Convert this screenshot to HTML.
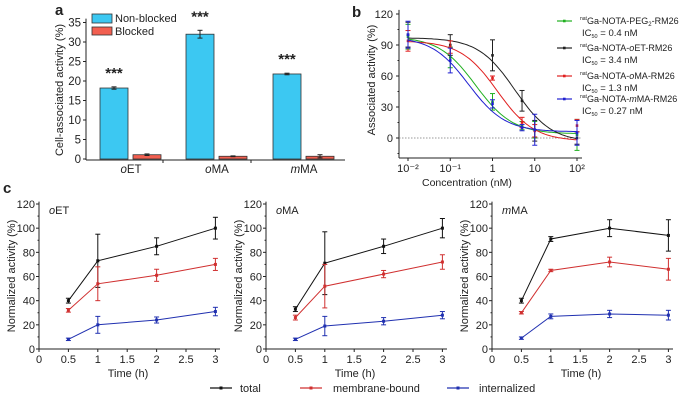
<!DOCTYPE html>
<html><head><meta charset="utf-8"><style>
body{margin:0;background:#fff;width:685px;height:400px;overflow:hidden}
svg{font-family:"Liberation Sans",sans-serif}
</style></head><body>
<svg id="s" width="685" height="400"></svg>
<script>
// Panel a data
const aCats=["oET","oMA","mMA"];
const aNonBlocked=[18.2,32,21.8];
const aNonBlockedErr=[0.3,1,0.2];
const aBlocked=[1.1,0.7,0.7];
const aBlockedErr=[0.2,0.1,0.4];
const aTicks=[0,5,10,15,20,25,30,35];
// Panel b data
const bConc=[0.01,0.1,1,5,10,100];
const bNames=["PEG","oET","oMA","mMA"];
const bColors=["#20b020","#202020","#e02020","#2020d0"];
const bIC50=[0.4,3.4,1.3,0.27];
const bTop=[98,97,94,98];
const bBottom=[4,-4,-3,6];
const bVals=[[98,78,35,12,8,3],[100,90,80,36,7,0],[94,88,58,15,7,12],[100,75,33,10,8,5]];
const bErrs=[[12,10,8,4,8,15],[12,10,15,10,10,6],[10,6,2,5,6,6],[13,12,4,3,15,12]];
const bTicks=[0,30,60,90,120];
const bXLabels=["10⁻²","10⁻¹","1","10","10²"];
// Panel c data
const cTimes=[0.5,1,2,3];
const cTitles=["oET","oMA","mMA"];
const cTotal=[[40,73,85,100],[33,71,85,100],[40,91,100,94]];
const cTotalErr=[[2,22,7,9],[2,26,6,8],[2,2,7,13]];
const cMem=[[32,54,61,70],[26,52,62,72],[30,65,72,66]];
const cMemErr=[[1.5,14,5,5],[2,18,3,6],[1,1,4,9]];
const cInt=[[8,20,24,31],[8,19,23,28],[9,27,29,28]];
const cIntErr=[[1,7,2.5,3.5],[1,8,3,3],[1,2,3,4]];
const cYTicks=[0,20,40,60,80,100,120];
const cXTicks=[0,0.5,1,1.5,2,2.5,3];

const S=document.getElementById('s');const NS="http://www.w3.org/2000/svg";
function el(t,a,txt){const e=document.createElementNS(NS,t);for(const k in a)e.setAttribute(k,a[k]);if(txt!==undefined)e.innerHTML=txt;S.appendChild(e);return e;}
function line(x1,y1,x2,y2,c,w,extra){return el('line',Object.assign({x1,y1,x2,y2,stroke:c||'#222','stroke-width':w||1},extra||{}));}
function ebar(x,y1,y2,c){line(x,y1,x,y2,c,1);line(x-2.5,y1,x+2.5,y1,c,1);line(x-2.5,y2,x+2.5,y2,c,1);}
function txt(x,y,s,o){return el('text',Object.assign({x,y,'font-size':10.5,fill:'#222'},o||{}),s);}

// ---- Panel a ----
let t=txt(55,15,"a",{'font-size':15,'font-weight':'bold'});
const ay=v=>159-v*3.9;
line(86,ay(36),86,160);line(86,160,345,160);
aTicks.forEach(v=>{line(83,ay(v),86,ay(v));const e=txt(81,ay(v)+4,v,{'text-anchor':'end','font-size':11.5});});
[163,251].forEach(x=>line(x,160,x,163));
t=txt(63,90,"Cell-associated activity (%)",{'text-anchor':'middle','font-size':11,transform:'rotate(-90 63 90)'});
const centers=[131,217,304];
aCats.forEach((c,i)=>{
 const cx=centers[i];
 let b=el('rect',{x:cx-31,y:ay(aNonBlocked[i]),width:28,height:ay(0)-ay(aNonBlocked[i]),fill:'#3cc8f2',stroke:'#333','stroke-width':0.8});
 
 ebar(cx-17,ay(aNonBlocked[i]+aNonBlockedErr[i]),ay(aNonBlocked[i]-aNonBlockedErr[i]),'#222');
 b=el('rect',{x:cx+2,y:ay(aBlocked[i]),width:28,height:ay(0)-ay(aBlocked[i]),fill:'#f25f50',stroke:'#333','stroke-width':0.8});
 
 ebar(cx+16,ay(aBlocked[i]+aBlockedErr[i]),ay(aBlocked[i]-aBlockedErr[i]),'#222');
 const s=txt(cx-17,ay(aNonBlocked[i]+aNonBlockedErr[i])-9,"***",{'text-anchor':'middle','font-size':15,'font-weight':'bold'});
 
 const l=txt(cx,173,'<tspan font-style="italic">'+c[0]+'</tspan>'+c.slice(1),{'text-anchor':'middle','font-size':11.5});
 
});
let lg=el('rect',{x:92,y:14,width:20,height:9,fill:'#3cc8f2',stroke:'#333','stroke-width':0.8});
lg=el('rect',{x:92,y:27,width:20,height:8,fill:'#f25f50',stroke:'#333','stroke-width':0.8});
t=txt(115,22,"Non-blocked",{'font-size':11});
t=txt(115,35,"Blocked",{'font-size':11});

// ---- Panel b ----
t=txt(352,17,"b",{'font-size':15,'font-weight':'bold'});
const by=v=>138-(v)*124/120;
const bx=c=>408+(Math.log10(c)+2)*42.25;
line(399,by(124),399,158);line(399,158,582,158);
line(399,by(0),582,by(0),'#777',0.8,{'stroke-dasharray':'1.5,1.5'});
bTicks.forEach(v=>{line(396,by(v),399,by(v));const e=txt(393,by(v)+4,v,{'text-anchor':'end','font-size':11});});
[-15,15,45,75,105].forEach(v=>line(397.5,by(v),399,by(v)));
bXLabels.forEach((lab,k)=>{const x=bx(Math.pow(10,k-2));line(x,158,x,161);const e=txt(x,172,lab,{'text-anchor':'middle','font-size':11});});
t=txt(422,186,"Concentration (nM)",{'font-size':10.5});
t=txt(375,80,"Associated activity (%)",{'text-anchor':'middle','font-size':11,transform:'rotate(-90 375 80)'});
bNames.forEach((n,i)=>{
 let d='';for(let k=0;k<=80;k++){const lc=-2+4*k/80;const c=Math.pow(10,lc);const v=bBottom[i]+(bTop[i]-bBottom[i])/(1+c/bIC50[i]);d+=(k?'L':'M')+bx(c).toFixed(1)+','+by(v).toFixed(1);}
 const p=el('path',{d,fill:'none',stroke:bColors[i],'stroke-width':1});
 bConc.forEach((c,j)=>{ebar(bx(c),by(bVals[i][j]+bErrs[i][j]),by(bVals[i][j]-bErrs[i][j]),bColors[i]);const m=el('rect',{x:bx(c)-1.3,y:by(bVals[i][j])-1.3,width:2.6,height:2.6,fill:bColors[i]});});
});
const bLeg=[["Ga-NOTA-PEG<tspan font-size='6' dy='2'>2</tspan><tspan dy='-2'>-RM26</tspan>"," = 0.4 nM"],
["Ga-NOTA-<tspan font-style='italic'>o</tspan>ET-RM26"," = 3.4 nM"],
["Ga-NOTA-<tspan font-style='italic'>o</tspan>MA-RM26"," = 1.3 nM"],
["Ga-NOTA-<tspan font-style='italic'>m</tspan>MA-RM26"," = 0.27 nM"]];
[21,48,76,99].forEach((y,i)=>{
 line(557,y,572,y,bColors[i],1.2);el('rect',{x:563,y:y-1.3,width:2.6,height:2.6,fill:bColors[i]});
 const a=txt(580,y+3,"<tspan font-size='5' dy='-4'>nat</tspan><tspan dy='4'>"+bLeg[i][0]+"</tspan>",{'font-size':9});
 
 const b=txt(582,y+15,"IC<tspan font-size='5.5' dy='2'>50</tspan><tspan dy='-2'>"+bLeg[i][1]+"</tspan>",{'font-size':9.5});
});

// ---- Panel c ----
t=txt(3,193,"c",{'font-size':15,'font-weight':'bold'});
const axes=[39,266,492];
const cy=v=>349-v*145/120;
const sers=[[cTotal,cTotalErr,'#111'],[cMem,cMemErr,'#d03030'],[cInt,cIntErr,'#2030b0']];
axes.forEach((x0,p)=>{
 const cx=v=>x0+v*58.8;
 line(x0,cy(122),x0,349);line(x0,349,x0+181,349);
 cYTicks.forEach(v=>{line(x0-3,cy(v),x0,cy(v));const e=txt(x0-4,cy(v)+4,v,{'text-anchor':'end','font-size':11});});
 [10,30,50,70,90,110].forEach(v=>line(x0-1.5,cy(v),x0,cy(v)));
 cXTicks.forEach(v=>{line(cx(v),349,cx(v),352);const e=txt(cx(v),363,v,{'text-anchor':'middle','font-size':11});});
 let e=txt(x0+89,377,"Time (h)",{'text-anchor':'middle','font-size':11});
 e=txt(x0-24,276,"Normalized activity (%)",{'text-anchor':'middle','font-size':11,transform:'rotate(-90 '+(x0-24)+' 276)'});
 const ttl=cTitles[p];e=txt(x0+10,214,'<tspan font-style="italic">'+ttl[0]+'</tspan>'+ttl.slice(1),{'font-size':11});
 sers.forEach(([V,E,col],k)=>{
  const pts=cTimes.map((tm,j)=>cx(tm).toFixed(1)+','+cy(V[p][j]).toFixed(1)).join(' ');
  const pl=el('polyline',{points:pts,fill:'none',stroke:col,'stroke-width':1});
  cTimes.forEach((tm,j)=>{ebar(cx(tm),cy(V[p][j]+E[p][j]),cy(V[p][j]-E[p][j]),col);const m=el('rect',{x:cx(tm)-1.5,y:cy(V[p][j])-1.5,width:3,height:3,fill:col});});
 });
});
[[210,240,'#111','total'],[300,333,'#d03030','membrane-bound'],[447,479,'#2030b0','internalized']].forEach(([x,tx,c,n])=>{
 line(x,388,x+22,388,c,1.2);el('rect',{x:x+9.5,y:386.5,width:3,height:3,fill:c});
 const e=txt(tx,392,n,{'font-size':11});
});
</script>
</body></html>
